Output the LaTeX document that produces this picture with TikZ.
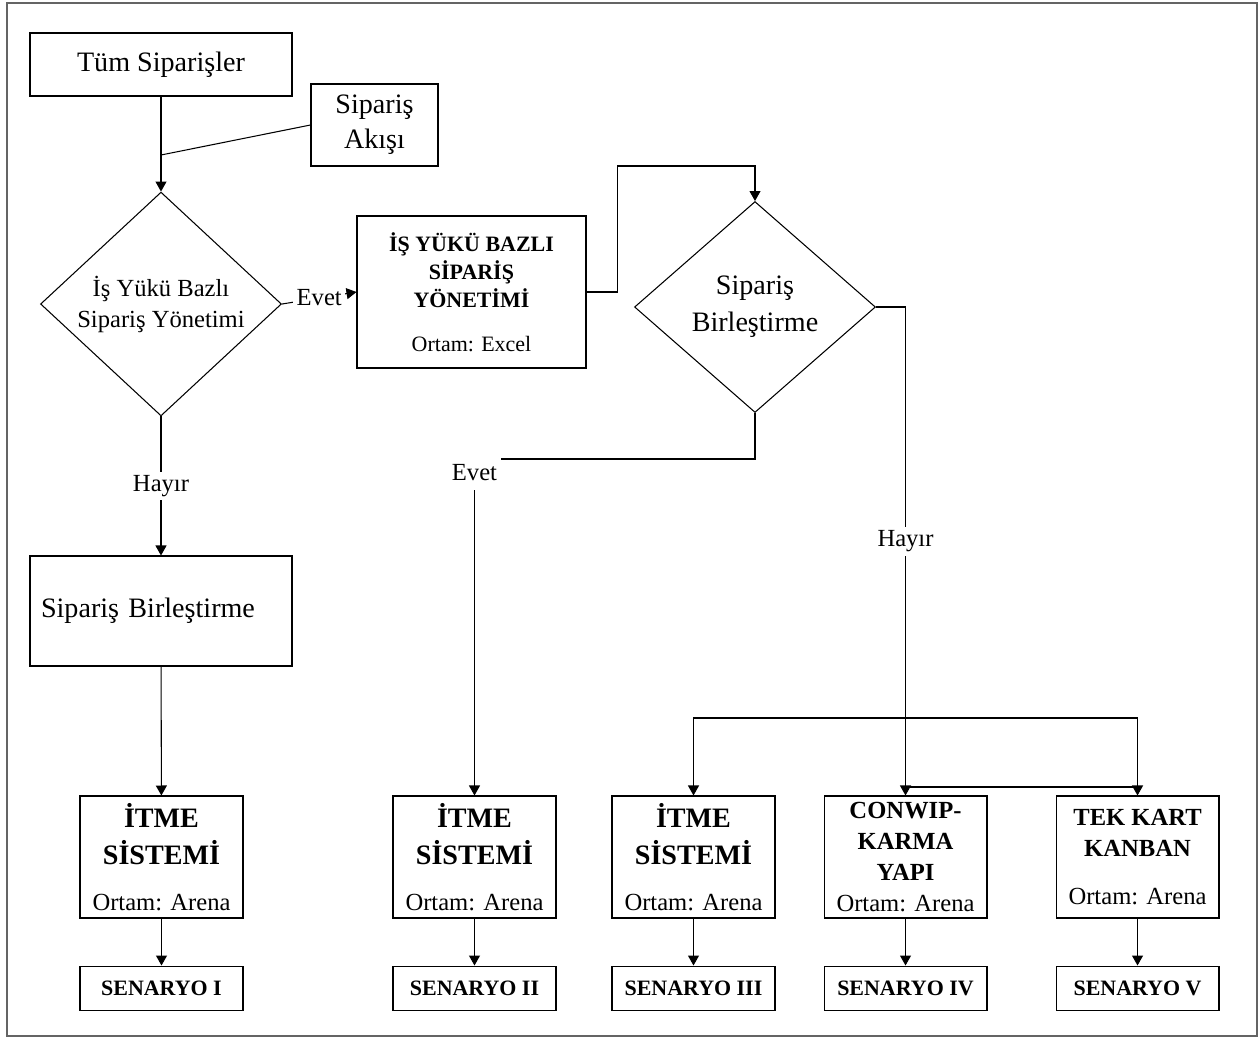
\documentclass[tikz,border=0pt]{standalone}
\usepackage{fontspec}
\setmainfont{Liberation Serif}
\usepackage{tikz}
\usetikzlibrary{shapes.geometric, arrows.meta, positioning, calc}
\definecolor{framegray}{RGB}{100, 100, 100}
\tikzset{
  >=Stealth,
  flowarrow/.style={-{Triangle[length=2mm, width=2.2mm]}, line width=0.6pt, black},
  flowline/.style={line width=0.6pt, black},
  plainbox/.style={draw, line width=0.6pt, align=center, inner sep=2pt},
  decisionbox/.style={draw, diamond, line width=0.6pt, align=center, inner sep=0pt, minimum width=4.82cm, minimum height=4.26cm},
  systembox/.style={plainbox, inner ysep=1pt, minimum width=3.26cm, minimum height=2.44cm},
  scenariobox/.style={plainbox, minimum width=3.26cm, minimum height=0.88cm, font=\fontsize{12.5}{15}\selectfont\bfseries},
  flowlabel/.style={fill=white, inner sep=2pt, font=\fontsize{14}{17}\selectfont}
}

\begin{document}
\begin{tikzpicture}[x=0.02cm, y=-0.02cm]
\useasboundingbox (0,0) rectangle (1259,1039);
\draw[framegray, line width=1.2pt] (7,3) rectangle (1257,1036);
\node[plainbox, minimum width=5.24cm, minimum height=1.26cm, font=\fontsize{16}{19}\selectfont] (tum) at (161,64.5) {Tüm Siparişler};
\node[plainbox, minimum width=2.54cm, minimum height=1.64cm, font=\fontsize{16}{20}\selectfont] (akis) at (374.5,125) {Sipariş\\Akışı};
\coordinate (akisjoin) at (161,155);
\node[decisionbox, font=\fontsize{14}{17.6}\selectfont] (karar1) at (161,304) {İş Yükü Bazlı\\Sipariş Yönetimi};
\node[plainbox, minimum width=4.58cm, minimum height=3.04cm, font=\fontsize{12.5}{16}\selectfont] (isyuku) at (471.5,292)
{\textbf{İŞ YÜKÜ BAZLI}\\\textbf{SİPARİŞ}\\\textbf{YÖNETİMİ}\\[9pt]Ortam: Excel};
\node[decisionbox, minimum height=4.22cm, font=\fontsize{16}{21}\selectfont] (karar2) at (755,307) {Sipariş\\Birleştirme};
\node[plainbox, minimum width=5.24cm, minimum height=2.2cm, text width=4.8cm, align=left, font=\fontsize{16}{19}\selectfont] (birles) at (161,611) {Sipariş Birleştirme};
\node[systembox, font=\fontsize{16}{21}\selectfont] (itme1) at (161.5,857)
{\textbf{İTME}\\\textbf{SİSTEMİ}\\[5pt]{\fontsize{14}{17}\selectfont Ortam: Arena}};
\node[systembox, font=\fontsize{16}{21}\selectfont, right=2.98cm of itme1] (itme2)
{\textbf{İTME}\\\textbf{SİSTEMİ}\\[5pt]{\fontsize{14}{17}\selectfont Ortam: Arena}};
\node[systembox, font=\fontsize{16}{21}\selectfont, right=1.1cm of itme2] (itme3)
{\textbf{İTME}\\\textbf{SİSTEMİ}\\[5pt]{\fontsize{14}{17}\selectfont Ortam: Arena}};
\node[systembox, font=\fontsize{14}{17.5}\selectfont\bfseries, right=0.96cm of itme3] (conwip)
{CONWIP-\\KARMA\\YAPI\\{\mdseries Ortam: Arena}};
\node[systembox, font=\fontsize{14}{17.5}\selectfont\bfseries, right=1.36cm of conwip] (tek)
{TEK KART\\KANBAN\\[10pt]{\mdseries Ortam: Arena}};
\node[scenariobox, below=0.94cm of itme1] (sen1) {SENARYO I};
\node[scenariobox, below=0.94cm of itme2] (sen2) {SENARYO II};
\node[scenariobox, below=0.94cm of itme3] (sen3) {SENARYO III};
\node[scenariobox, below=0.94cm of conwip] (sen4) {SENARYO IV};
\node[scenariobox, below=0.94cm of tek] (sen5) {SENARYO V};
\draw[flowarrow] (tum) -- (karar1);
\draw[flowline] (akis.west) -- (akisjoin);
\draw[flowarrow] (karar1.east) -- node[flowlabel] {Evet} (isyuku.west);
\draw[flowarrow] (isyuku.east) -- ++(31,0) |- ($(karar2.north)+(0,-35)$) -- (karar2.north);
\draw[flowarrow] (karar1) -- node[flowlabel] {Hayır} (birles);
\draw[flowarrow] (birles) -- (itme1);
\draw[flowarrow] (karar2.south) -- ++(0,46) -| node[pos=0.5, flowlabel, inner ysep=5pt, yshift=-0.28cm] {Evet} (itme2.north);
\draw[flowarrow] (karar2.east) -| node[pos=0.74, flowlabel] {Hayır} (conwip.north);
\coordinate (fork) at (conwip.north |- 0,718);
\draw[flowarrow] (fork) -| (itme3.north);
\draw[flowarrow] (fork) -| (tek.north);
\draw[flowline] (conwip.north |- 0,787) -- (tek.north |- 0,787);
\draw[flowarrow] (itme1) -- (sen1);
\draw[flowarrow] (itme2) -- (sen2);
\draw[flowarrow] (itme3) -- (sen3);
\draw[flowarrow] (conwip) -- (sen4);
\draw[flowarrow] (tek) -- (sen5);
\end{tikzpicture}
\end{document}
